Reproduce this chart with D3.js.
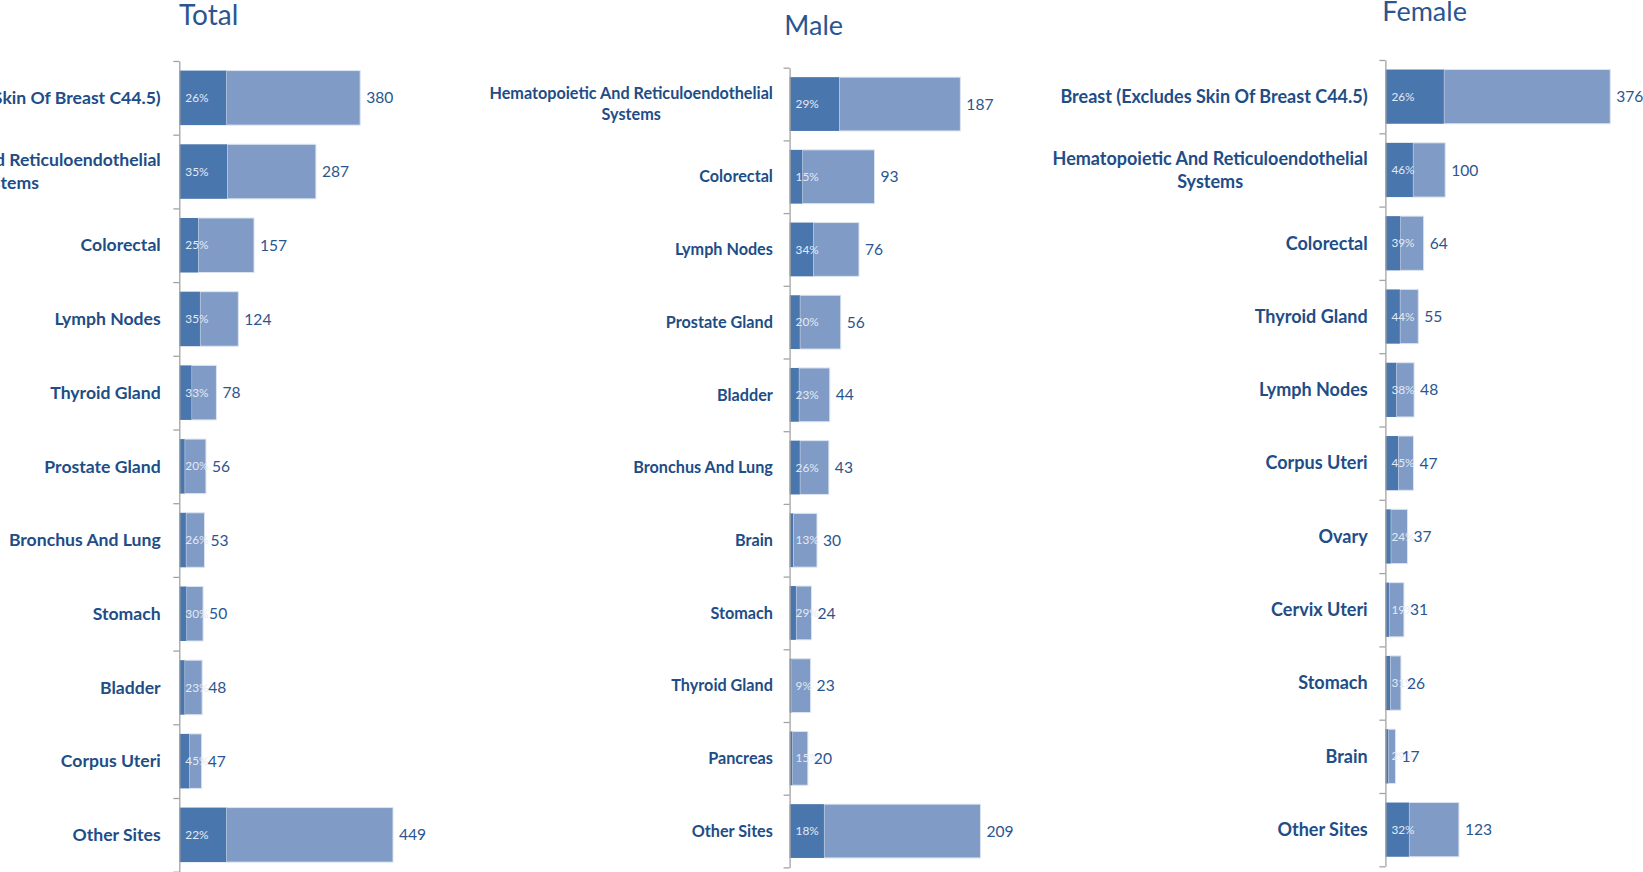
<!DOCTYPE html>
<html>
<head>
<meta charset="utf-8">
<script src="https://cdn.jsdelivr.net/npm/d3@7"></script>
<style>
  body { margin: 0; background: #fff; overflow: hidden; }
  svg { display: block; font-family: Lato, "Open Sans", sans-serif; }
</style>
</head>
<body>
<svg id="chart" width="1643" height="872"></svg>
<script>
// data
var totalSites = ["Breast (Excludes Skin Of Breast C44.5)", "Hematopoietic And Reticuloendothelial Systems", "Colorectal", "Lymph Nodes", "Thyroid Gland", "Prostate Gland", "Bronchus And Lung", "Stomach", "Bladder", "Corpus Uteri", "Other Sites"];
var totalCounts = [380, 287, 157, 124, 78, 56, 53, 50, 48, 47, 449];
var totalPct = [26, 35, 25, 35, 33, 20, 26, 30, 23, 45, 22];

var maleSites = ["Hematopoietic And Reticuloendothelial Systems", "Colorectal", "Lymph Nodes", "Prostate Gland", "Bladder", "Bronchus And Lung", "Brain", "Stomach", "Thyroid Gland", "Pancreas", "Other Sites"];
var maleCounts = [187, 93, 76, 56, 44, 43, 30, 24, 23, 20, 209];
var malePct = [29, 15, 34, 20, 23, 26, 13, 29, 9, 15, 18];

var femaleSites = ["Breast (Excludes Skin Of Breast C44.5)", "Hematopoietic And Reticuloendothelial Systems", "Colorectal", "Thyroid Gland", "Lymph Nodes", "Corpus Uteri", "Ovary", "Cervix Uteri", "Stomach", "Brain", "Other Sites"];
var femaleCounts = [376, 100, 64, 55, 48, 47, 37, 31, 26, 17, 123];
var femalePct = [26, 46, 39, 44, 38, 45, 24, 19, 31, 29, 32];

var darkBlue = "#4a76ae",
    lightBlue = "#7f9bc6",
    textBlue = "#214d86",
    valueBlue = "#2b5590";

var panels = [
  { title: "Total", sites: totalSites, counts: totalCounts, pct: totalPct,
    axisX: 179.3, top: 61, step: 73.7, xMax: 500, xWidth: 238,
    titleX: 179, titleY: 25, titleSize: 28, gap: 18.6, labelSize: 17.6 },
  { title: "Male", sites: maleSites, counts: maleCounts, pct: malePct,
    axisX: 789.6, top: 67.7, step: 72.7, xMax: 250, xWidth: 228.3,
    titleX: 784.3, titleY: 35, titleSize: 27, gap: 16.7, labelSize: 16.2 },
  { title: "Female", sites: femaleSites, counts: femaleCounts, pct: femalePct,
    axisX: 1385.4, top: 60, step: 73.3, xMax: 400, xWidth: 239.2,
    titleX: 1382.3, titleY: 20.7, titleSize: 27, gap: 17.7, labelSize: 18 }
];

var svg = d3.select("#chart");

panels.forEach(function(p) {
  var n = p.sites.length;
  var bottom = p.top + p.step * n;

  var y = d3.scaleBand()
    .domain(p.sites)
    .range([p.top, bottom])
    .paddingInner(0.26)
    .paddingOuter(0.13);

  var x = d3.scaleLinear()
    .domain([0, p.xMax])
    .range([p.axisX, p.axisX + p.xWidth]);

  // tick marks sit between categories, like the spreadsheet axis
  var yIdx = d3.scaleLinear().domain([0, n]).range([p.top, bottom]);

  var rows = p.sites.map(function(s, i) {
    return { site: s, count: p.counts[i], pct: p.pct[i], dark: p.counts[i] * p.pct[i] / 100 };
  });

  var g = svg.append("g");

  g.append("text")
    .attr("x", p.titleX)
    .attr("y", p.titleY)
    .attr("fill", valueBlue)
    .style("font-size", p.titleSize + "px")
    .text(p.title);

  // light part (rest of the count)
  g.selectAll(".light")
    .data(rows)
    .enter().append("rect")
    .attr("x", function(d) { return x(d.dark); })
    .attr("y", function(d) { return y(d.site); })
    .attr("width", function(d) { return x(d.count) - x(d.dark); })
    .attr("height", y.bandwidth())
    .attr("fill", lightBlue)
    .attr("stroke", "#dce4f0")
    .attr("stroke-width", 1);

  // dark part
  g.selectAll(".dark")
    .data(rows)
    .enter().append("rect")
    .attr("x", x(0))
    .attr("y", function(d) { return y(d.site); })
    .attr("width", function(d) { return x(d.dark) - x(0); })
    .attr("height", y.bandwidth())
    .attr("fill", darkBlue);

  var axis = d3.axisLeft(yIdx)
    .tickValues(d3.range(n + 1))
    .tickFormat("")
    .tickSizeInner(6)
    .tickSizeOuter(0);

  var ax = g.append("g")
    .attr("transform", "translate(" + p.axisX + ",0)")
    .call(axis);
  ax.select(".domain").attr("stroke", "#a3a3a3").attr("stroke-width", 1.3);
  ax.selectAll(".tick line").attr("stroke", "#a3a3a3").attr("stroke-width", 1.3);

  // percent labels
  g.selectAll(".pct")
    .data(rows)
    .enter().append("text")
    .attr("x", x(0) + 6)
    .attr("y", function(d) { return y(d.site) + y.bandwidth() / 2; })
    .attr("dy", "0.35em")
    .attr("fill", "#e4eaf4")
    .style("font-size", "11.8px")
    .text(function(d) { return d.pct + "%"; });

  // count labels
  g.selectAll(".val")
    .data(rows)
    .enter().append("text")
    .attr("x", function(d) { return x(d.count) + 6; })
    .attr("y", function(d) { return y(d.site) + y.bandwidth() / 2; })
    .attr("dy", "0.36em")
    .attr("fill", valueBlue)
    .style("font-size", "15.6px")
    .text(function(d) { return d.count; });

  // category labels, wrapped and centred like the original
  var right = p.axisX - p.gap;
  rows.forEach(function(d) {
    var cy = y(d.site) + y.bandwidth() / 2;
    var t = g.append("text")
      .attr("fill", textBlue)
      .attr("text-anchor", "middle")
      .style("font-size", p.labelSize + "px")
      .style("font-weight", "bold");
    var words = d.site.split(" ");
    var lines = [];
    var line = [];
    var probe = t.append("tspan");
    words.forEach(function(w) {
      line.push(w);
      probe.text(line.join(" "));
      if (probe.node().getComputedTextLength() > 335 && line.length > 1) {
        line.pop();
        lines.push(line.join(" "));
        line = [w];
      }
    });
    lines.push(line.join(" "));
    probe.remove();
    var widths = lines.map(function(l) {
      var s = t.append("tspan").text(l);
      var w = s.node().getComputedTextLength();
      s.remove();
      return w;
    });
    var cx = right - d3.max(widths) / 2;
    var lh = p.labelSize * 1.3;
    var y0 = cy - (lines.length - 1) * lh / 2;
    lines.forEach(function(l, i) {
      t.append("tspan")
        .attr("x", cx)
        .attr("y", y0 + i * lh)
        .attr("dy", "0.35em")
        .text(l);
    });
  });
});
</script>
</body>
</html>
